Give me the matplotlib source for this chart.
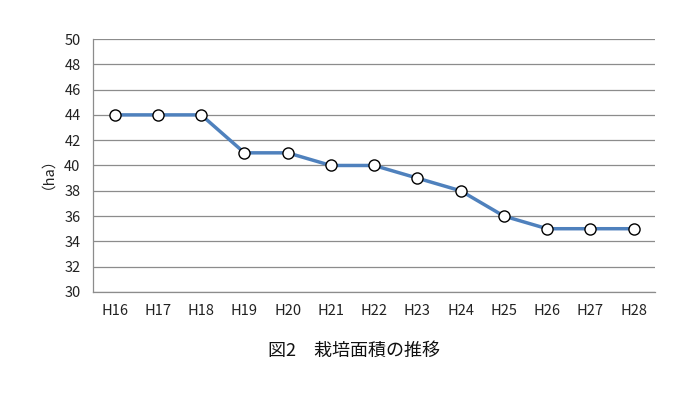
import matplotlib
matplotlib.use("Agg")
import matplotlib.pyplot as plt

plt.rcParams['font.family'] = ['Noto Sans CJK JP', 'DejaVu Sans']

categories = ["H16", "H17", "H18", "H19", "H20", "H21", "H22", "H23", "H24", "H25", "H26", "H27", "H28"]
values = [44, 44, 44, 41, 41, 40, 40, 39, 38, 36, 35, 35, 35]
yticks = [30, 32, 34, 36, 38, 40, 42, 44, 46, 48, 50]

fig = plt.figure(figsize=(7, 3.94), dpi=100)
ax = fig.add_axes([0.133, 0.259, 0.803, 0.642])
x = list(range(len(categories)))
ax.plot(x, values, color='#4f81bd', linewidth=2.5, marker='o', markersize=8,
        markerfacecolor='white', markeredgecolor='black', markeredgewidth=1.0, zorder=3)
ax.set_xlim(-0.5, len(categories) - 0.5)
ax.set_ylim(30, 50)
ax.set_yticks(yticks)
ax.set_xticks(x)
ax.set_xticklabels(categories)
ax.tick_params(length=0, labelsize=10.5, colors='#222222')
ax.tick_params(axis='y', pad=9)
ax.tick_params(axis='x', pad=9)
ax.yaxis.grid(True, color='#8c8c8c', linewidth=0.9)
ax.set_axisbelow(True)
for s in ['top', 'right']:
    ax.spines[s].set_visible(False)
for s in ['left', 'bottom']:
    ax.spines[s].set_color('#8c8c8c')
    ax.spines[s].set_linewidth(0.9)
fig.text(0.058, 0.58, '（ha）', rotation=90, ha='center', va='center', fontsize=10.5, color='#222222')
fig.text(0.505, 0.11, '図2　栽培面積の推移', ha='center', va='center', fontsize=13, color='#111111')
fig.savefig('out.png', dpi=100)
